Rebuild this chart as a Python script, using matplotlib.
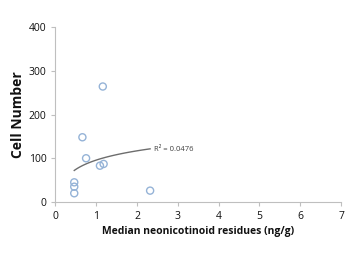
import numpy as np
import matplotlib
matplotlib.use("Agg")
import matplotlib.pyplot as plt

plt.rcParams['font.family'] = ['Open Sans', 'DejaVu Sans']

residues = [0.46, 0.46, 0.46, 0.66, 0.75, 1.09, 1.18, 1.16, 2.32]
cells = [45, 35, 20, 148, 100, 83, 87, 264, 26]
xticks = [0, 1, 2, 3, 4, 5, 6, 7]
yticks = [0, 100, 200, 300, 400]
r2_label = "R\u00b2 = 0.0476"

fig = plt.figure(figsize=(3.61, 2.64), dpi=100)
ax = fig.add_axes([0.1537, 0.2348, 0.7909, 0.6629])

x = np.array(residues)
y = np.array(cells)
lx = np.log(x)
slope, intercept = np.polyfit(lx, y, 1)
xs = np.linspace(x.min(), x.max(), 100)
ax.plot(xs, slope * np.log(xs) + intercept, color='#6d6d6d', lw=1.0, zorder=2)
ax.scatter(x, y, s=26, facecolors='none', edgecolors='#95b3d7', linewidths=1.0, zorder=3)
ax.text(2.42, 119, r2_label, fontsize=5.5, color='#404040', va='center', ha='left')

ax.set_xlim(0, 7)
ax.set_ylim(0, 400)
ax.set_xticks(xticks)
ax.set_yticks(yticks)
for s in ['top', 'right']:
    ax.spines[s].set_visible(False)
for s in ['left', 'bottom']:
    ax.spines[s].set_color('#bfbfbf')
    ax.spines[s].set_linewidth(0.8)
ax.tick_params(axis='both', colors='#bfbfbf', labelcolor='#111111', labelsize=7.5, length=3, width=0.8, direction='out')
ax.set_xlabel('Median neonicotinoid residues (ng/g)', fontsize=7.5, fontweight='bold', color='#111111', labelpad=3)
ax.set_ylabel('Cell Number', fontsize=10, fontweight='bold', color='#111111', labelpad=3)

fig.savefig('out.png', dpi=100)
